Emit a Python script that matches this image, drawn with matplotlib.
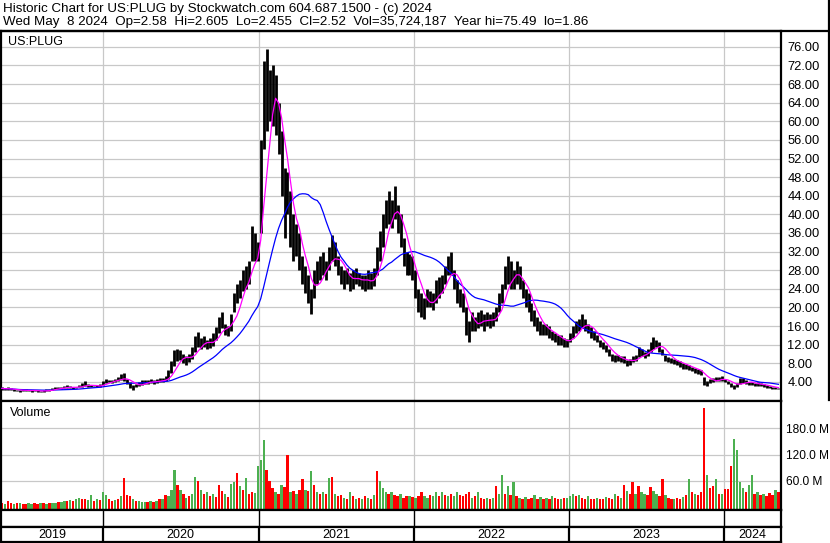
import numpy as np
import pandas as pd
import matplotlib
matplotlib.use("Agg")
import matplotlib.pyplot as plt
from matplotlib.lines import Line2D

plt.rcParams['font.family'] = ['Liberation Sans', 'DejaVu Sans']

# # # # # data (weekly) # # # # #

START = "2019-05-08"

lo_2019 = [2.3, 2.2, 2.3, 2.2, 2.0, 2.0, 1.9, 2.0, 2.1, 2.0,
           1.9, 2.0, 1.9, 1.8, 1.9, 2.0, 2.1, 2.3, 2.4, 2.5,
           2.5, 2.6, 2.7, 2.6, 2.5, 2.6, 2.8, 2.9, 3.2, 2.9,
           2.8, 2.8, 2.9, 3.0]
hi_2019 = [2.9, 2.7, 2.8, 2.6, 2.5, 2.3, 2.3, 2.4, 2.4, 2.3,
           2.2, 2.3, 2.2, 2.1, 2.2, 2.4, 2.5, 2.7, 2.9, 2.9,
           3.0, 3.1, 3.3, 3.1, 2.9, 3.0, 3.4, 3.7, 4.2, 3.5,
           3.3, 3.2, 3.3, 3.5]

lo_2020 = [3.4, 3.8, 3.9, 3.8, 4.0, 4.2, 4.5, 4.2, 3.5, 2.6,
           2.3, 2.8, 3.2, 3.4, 3.6, 3.5, 3.7, 3.6, 3.8, 3.9,
           4.0, 4.2, 4.6, 6.0, 7.5, 8.5, 8.8, 8.0, 7.6, 8.2,
           9.0, 10.5, 11.5, 11.0, 11.5, 11.0, 11.2, 11.8, 13.0, 14.5,
           15.5, 14.0, 13.8, 15.0, 19.0, 21.0, 22.0, 23.5, 24.0, 25.0,
           30.0, 30.0]
hi_2020 = [4.2, 4.6, 4.5, 4.4, 4.7, 5.0, 5.6, 6.0, 4.6, 4.0,
           3.4, 3.6, 4.0, 4.3, 4.5, 4.3, 4.6, 4.4, 4.6, 4.8,
           4.9, 5.2, 6.5, 8.5, 10.8, 11.0, 10.8, 10.0, 9.5, 10.0,
           11.5, 13.8, 14.8, 13.5, 13.8, 13.0, 13.5, 14.5, 15.8, 18.0,
           19.0, 16.5, 16.0, 18.5, 23.0, 25.0, 26.0, 28.0, 29.0, 30.0,
           37.5, 36.0]

lo_2021 = [30, 36, 54, 58, 60, 59, 57, 53, 44, 35,
           40, 33, 30, 31, 28, 25, 23, 21, 18.5, 22,
           25, 26, 27, 26, 28, 30, 29, 27, 25, 24,
           25, 23.5, 24, 25, 24.5, 24, 23.5, 24, 24, 24.5,
           27, 30, 33, 37, 38, 37, 39, 36, 33, 29,
           27, 27]
hi_2021 = [34, 56, 73, 75.5, 71, 72, 70, 64, 58, 50,
           49, 45, 40, 38, 36, 31, 29, 27, 24, 28,
           30, 31, 32, 30, 33, 35.5, 34, 31, 29, 28,
           28.5, 27.5, 28, 28.5, 27.5, 27, 27, 28, 27.5, 28.5,
           33, 36.5, 40, 43, 45, 43, 46, 42, 40, 35,
           32, 31.5]

lo_2022 = [26, 22, 19, 18, 17.5, 20, 20, 19.5, 21, 22,
           23, 25, 27, 27, 24, 21, 20, 19, 14, 12.5,
           15, 15, 15.5, 16, 15, 16, 15.5, 16, 17, 19,
           21, 24, 25, 24, 24, 25, 24, 22, 20, 19,
           17, 16, 15, 14, 14, 14, 13.5, 13, 12.5, 12,
           12, 11.5]
hi_2022 = [31, 28, 24, 23, 22, 24, 23.5, 23, 26, 26.5,
           27, 29, 31, 32, 28, 26, 24, 23, 20, 17,
           19, 18, 19, 19.5, 18.5, 19, 18.5, 19, 20, 23,
           25, 29, 31, 30, 28, 30, 29, 26, 24, 23,
           21, 19.5, 18, 17, 16.5, 16.5, 16, 15, 14.5, 14,
           14, 13.5]

lo_2023 = [11.5, 12.5, 13.5, 14.5, 15, 15.5, 15, 14.5, 13.5, 13,
           12.5, 11.5, 11, 10.5, 9.5, 8.5, 8.2, 8.5, 8.3, 8.0,
           7.5, 7.6, 8.2, 8.5, 9.3, 9.5, 9.2, 9.6, 10.5, 11,
           11.5, 10.5, 9.8, 8.5, 8.2, 8.0, 7.8, 7.6, 7.3, 6.8,
           6.7, 6.5, 6.3, 6.0, 5.7, 5.5, 3.3, 3.2, 3.7, 4.0,
           4.2, 4.1]
hi_2023 = [13.2, 14.5, 16, 17, 17.5, 18.6, 17.5, 16.5, 15.8, 15,
           14, 13, 12.5, 12, 11, 10, 9.8, 9.8, 9.5, 9.5,
           8.8, 9.0, 9.5, 9.8, 11.5, 11, 10.5, 11, 12.5, 13.6,
           13, 12.5, 11, 9.8, 9.3, 9.2, 8.9, 8.6, 8.4, 8.0,
           7.8, 7.6, 7.2, 7.0, 6.7, 6.5, 5.0, 4.2, 4.6, 4.9,
           5.1, 5.0]

lo_2024 = [4.2, 3.9, 3.5, 2.9, 2.5, 2.8, 3.6, 3.8, 3.6, 3.3,
           3.3, 3.1, 3.2, 3.1, 2.9, 2.7, 2.6, 2.4, 2.5, 2.455]
hi_2024 = [5.3, 4.7, 4.2, 3.7, 3.3, 3.8, 4.9, 4.8, 4.4, 4.0,
           4.0, 3.8, 3.9, 3.7, 3.5, 3.3, 3.1, 3.0, 2.9, 2.7]

# weekly peak daily volume (millions) and up/down colour (G/R)
vol_2019 = [10, 8, 15, 9, 8, 10, 9, 8, 7, 9,
            8, 9, 8, 10, 9, 8, 9, 10, 11, 12,
            12, 14, 15, 17, 15, 18, 22, 20, 20, 16,
            28, 14, 20, 16]
vol_2020 = [36, 28, 20, 15, 16, 18, 25, 67, 28, 25,
            18, 14, 15, 12, 12, 12, 14, 12, 14, 18,
            20, 28, 26, 40, 84, 51, 40, 30, 22, 25,
            30, 70, 61, 40, 30, 35, 25, 30, 24, 51,
            37, 30, 24, 52, 57, 78, 49, 40, 67, 30,
            35, 32]
vol_2021 = [95, 108, 153, 86, 61, 45, 35, 30, 51, 46,
            118, 35, 38, 30, 40, 64, 40, 38, 82, 50,
            35, 30, 35, 30, 66, 68, 30, 25, 28, 22,
            20, 35, 25, 20, 22, 20, 25, 22, 18, 28,
            82, 60, 45, 35, 30, 35, 28, 25, 30, 22,
            25, 26]
vol_2022 = [24, 22, 26, 36, 25, 22, 28, 25, 36, 25,
            36, 28, 25, 30, 26, 36, 28, 25, 30, 36,
            22, 25, 36, 22, 20, 22, 18, 22, 48, 30,
            73, 30, 48, 28, 57, 25, 22, 20, 24, 18,
            22, 28, 20, 24, 18, 22, 20, 26, 22, 18,
            20, 22]
vol_2023 = [22, 25, 30, 25, 28, 22, 20, 25, 20, 18,
            22, 20, 18, 24, 22, 20, 30, 26, 22, 50,
            37, 30, 58, 30, 48, 35, 30, 28, 46, 38,
            30, 25, 65, 28, 22, 20, 18, 22, 20, 24,
            28, 65, 35, 30, 28, 35, 225, 73, 45, 48,
            64, 30]
vol_2024 = [30, 41, 41, 95, 156, 130, 57, 45, 35, 50,
            73, 30, 34, 28, 30, 25, 32, 28, 40, 34]

updown = ("RGRRGRGRRG" "GRRGRGRGGR" "GGRGRGGRRG" "GRGR"
          "GGRRGRGRRR" "GRGGGRGRGR" "GRGGGRGRGR" "GGRGRGRGRR" "RGRGGRGRGR" "RG"
          "GGGRRRGRGR" "RGRGRRGRGR" "GRGRGRGRRG" "RGRGRGRGRG" "RGGGRGRRGR" "RG"
          "RGRRGGRGGR" "GRGRGGRRRR" "GRGRRGRGRG" "GRGRGRGRGR" "RGRGRGRGRR" "GR"
          "GGGRGRRGRR" "GRRGRRGRGR" "GRRGRGGRRG" "GRRGRRGRRG" "RGRGRRRGRR" "GR"
          "GRRRGGGGRG" "GRGRGRRRGR")

years = ["2019", "2020", "2021", "2022", "2023", "2024"]
price_ticks = list(range(4, 80, 4))
vol_ticks = [60, 120, 180]

header1 = "Historic Chart for US:PLUG by Stockwatch.com 604.687.1500 - (c) 2024"
header2 = ("Wed May  8 2024  Op=2.58  Hi=2.605  Lo=2.455  Cl=2.52  "
           "Vol=35,724,187  Year hi=75.49  lo=1.86")


# # # # # preparations # # # # #

lo = np.array(lo_2019 + lo_2020 + lo_2021 + lo_2022 + lo_2023 + lo_2024)
hi = np.array(hi_2019 + hi_2020 + hi_2021 + hi_2022 + hi_2023 + hi_2024)
vol = np.array(vol_2019 + vol_2020 + vol_2021 + vol_2022 + vol_2023 + vol_2024, dtype=float)
dates = pd.Timestamp(START) + pd.to_timedelta(7 * np.arange(len(hi)), unit="D")
vol_cols = ["#4CB050" if c == "G" else "#FF0000" for c in updown]

# moving averages from the weekly mid price
mid = pd.Series((lo + hi) / 2)
ma_fast = mid.rolling(5, min_periods=1).mean()
ma_slow = mid.rolling(20, min_periods=1).mean()

year_starts = [pd.Timestamp(y + "-01-01") for y in years[1:]]
x_lim = (pd.Timestamp("2019-05-06"), pd.Timestamp("2024-05-14"))

W, H = 830, 543
GRID = "#C8C8C8"
FS = 9

def frac(x0, y0, x1, y1):
	# pixel box -> figure fraction
	return [x0 / W, 1 - y1 / H, (x1 - x0) / W, (y1 - y0) / H]

def style_axis(ax):
	for s in ax.spines.values():
		s.set_color("black")
		s.set_linewidth(1.6)
	ax.set_xlim(x_lim)
	ax.tick_params(axis="x", length=0, labelbottom=False)


# # # # # figure # # # # #

fig = plt.figure(figsize=(W / 100, H / 100), dpi=100)

fig.text(3 / W, 1 - 9 / H, header1, fontsize=9.6, va="center", ha="left")
fig.text(3 / W, 1 - 22 / H, header2, fontsize=9.6, va="center", ha="left")


# # # PRICE PANEL # # #

ax = fig.add_axes(frac(1, 31, 781, 400.5))
style_axis(ax)
ax.set_ylim(0, 79.4)
ax.set_yticks(price_ticks)
ax.set_yticklabels(["%.2f" % t for t in price_ticks])
ax.yaxis.tick_right()
ax.tick_params(axis="y", length=0, pad=4.5, labelsize=9.3)
for t in price_ticks:
	ax.axhline(t, color=GRID, lw=0.9, zorder=0)
for d in year_starts:
	ax.axvline(d, color=GRID, lw=0.9, zorder=0)

ax.vlines(dates, lo, hi, color="black", lw=2.0, zorder=2)
ax.plot(dates, ma_slow, color="#0000FF", lw=0.9, zorder=3)
ax.plot(dates, ma_fast, color="#FF00FF", lw=0.9, zorder=3)
ax.text(7 / 780, 1 - 11 / 369.5, "US:PLUG", transform=ax.transAxes, fontsize=FS,
	va="center", ha="left")


# # # VOLUME PANEL # # #

vax = fig.add_axes(frac(1, 400.5, 781, 510))
style_axis(vax)
vax.set_ylim(-6, 243)
vax.set_yticks(vol_ticks)
vax.set_yticklabels(["%.1f M" % v for v in vol_ticks])
vax.yaxis.tick_right()
vax.tick_params(axis="y", length=0, pad=3.5, labelsize=8.6)
for v in vol_ticks:
	vax.axhline(v, color=GRID, lw=0.9, zorder=0)
for d in year_starts:
	vax.axvline(d, color=GRID, lw=0.9, zorder=0)
base = vax.get_ylim()[0]
vax.bar(dates, vol - base, bottom=base, width=5.5, color=vol_cols, zorder=2)
vax.text(9 / 780, 1 - 12 / 109.5, "Volume", transform=vax.transAxes, fontsize=FS,
	va="center", ha="left")


# # # DATE STRIPS # # #

sax = fig.add_axes(frac(1, 510, 781, 526.5))
style_axis(sax)
sax.set_yticks([])
for d in year_starts:
	sax.axvline(d, color="black", lw=1.0)

yax = fig.add_axes(frac(1, 526.5, 781, 541.5))
style_axis(yax)
yax.set_yticks([])
bounds = [x_lim[0]] + year_starts + [x_lim[1]]
for d in year_starts:
	yax.axvline(d, color="black", lw=1.6)
for i, y in enumerate(years):
	xm = bounds[i] + (bounds[i + 1] - bounds[i]) / 2
	yax.text(xm, 0.45, y, fontsize=FS, ha="center", va="center",
		transform=yax.get_xaxis_transform())

# outer frame lines
fig.add_artist(Line2D([0, 1], [1 - 31 / H] * 2, color="black", lw=1.6))
fig.add_artist(Line2D([829 / W] * 2, [1 - 400 / H, 1], color="black", lw=1.6))

fig.savefig("out.png", dpi=100)
